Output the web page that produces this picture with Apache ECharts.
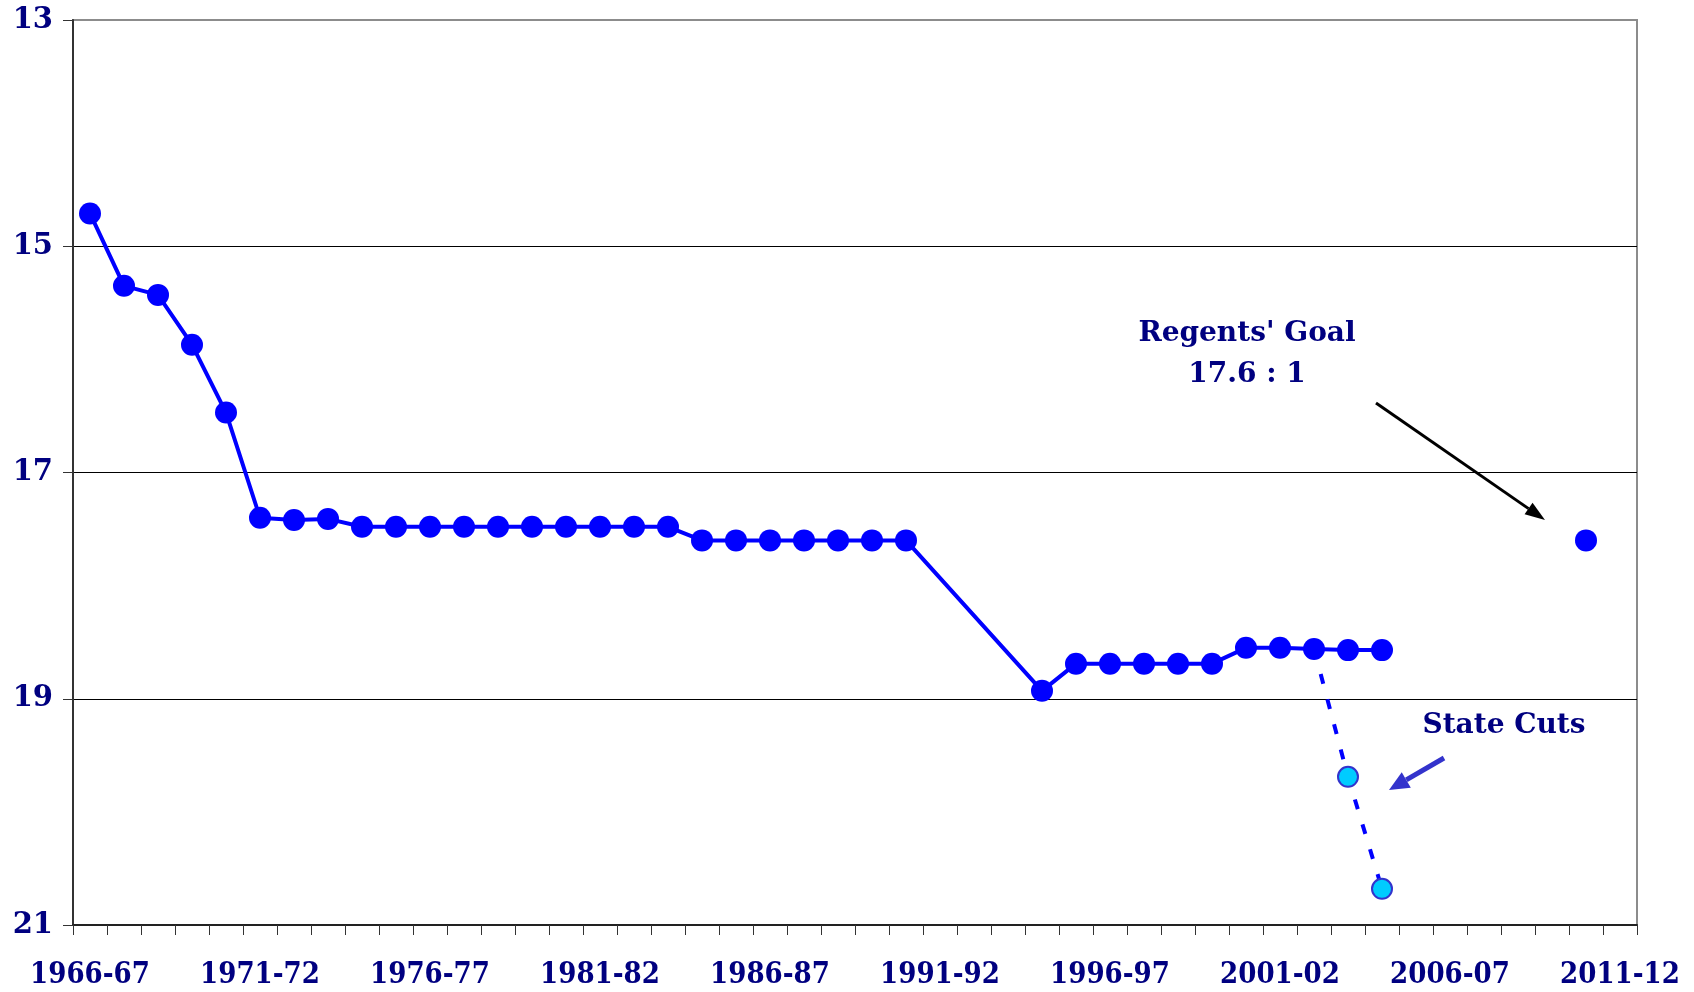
<!DOCTYPE html>
<html>
<head>
<meta charset="utf-8">
<script src="https://cdn.jsdelivr.net/npm/echarts@6/dist/echarts.min.js"></script>
<style>
  html, body { margin: 0; padding: 0; background: #fff; }
  #chart { width: 1694px; height: 992px; }
</style>
</head>
<body>
<div id="chart"></div>
<script>
// school years 1966-67 .. 2011-12
const firstYear = 1966;
const lastYear = 2011;
const years = [];
for (let y = firstYear; y <= lastYear; y++) {
  years.push(y + '-' + String(y + 1).slice(2));
}

// students per teacher (y axis is inverted), null = no value
const ratio = [
  14.71, 15.35, 15.43, 15.87, 16.47, 17.40, 17.42, 17.41, 17.48, 17.48,
  17.48, 17.48, 17.48, 17.48, 17.48, 17.48, 17.48, 17.48, 17.60, 17.60,
  17.60, 17.60, 17.60, 17.60, 17.60, null, null, null, 18.93, 18.69,
  18.69, 18.69, 18.69, 18.69, 18.55, 18.55, 18.56, 18.57, 18.57
];
// projected after state cuts, starting at 2002-03
const cutsStart = 36;
const cuts = [18.56, 19.69, 20.68];
// regents' goal point
const goalYear = '2010-11';
const goalValue = 17.6;

const yTicks = { min: 13, max: 21, step: 2 };

const navy = '#000080';
const blue = '#0000FF';

let cutsData = years.map(() => null);
cuts.forEach((v, i) => {
  cutsData[cutsStart + i] = i == 0 ? { value: v, symbol: 'none' } : v;
});
let goalData = years.map(y => (y == goalYear ? goalValue : null));

// little helper for the annotation arrows
function arrow(x1, y1, x2, y2, color, width, headLen, headW) {
  let ang = Math.atan2(y2 - y1, x2 - x1);
  let bx = x2 - headLen * Math.cos(ang), by = y2 - headLen * Math.sin(ang);
  let nx = -Math.sin(ang) * headW / 2, ny = Math.cos(ang) * headW / 2;
  return [
    { type: 'line', shape: { x1: x1, y1: y1, x2: bx, y2: by },
      style: { stroke: color, lineWidth: width }, z: 100 },
    { type: 'polygon', shape: { points: [[x2, y2], [bx + nx, by + ny], [bx - nx, by - ny]] },
      style: { fill: color }, z: 100 }
  ];
}

let chart = echarts.init(document.getElementById('chart'));
let option = {
  animation: false,
  grid: {
    left: 73, right: 57, top: 20, bottom: 67,
    show: true, borderColor: '#8c8c8c', borderWidth: 2
  },
  xAxis: {
    type: 'category',
    data: years,
    boundaryGap: true,
    axisLine: { onZero: false, lineStyle: { color: '#222', width: 2 } },
    axisTick: { show: true, interval: 0, length: 10, lineStyle: { color: '#333', width: 1 } },
    axisLabel: {
      interval: 4, margin: 36, color: navy,
      fontFamily: '"DejaVu Serif Condensed", "Liberation Serif", serif',
      fontWeight: 'bold', fontSize: 29
    },
    splitLine: { show: false }
  },
  yAxis: {
    type: 'value',
    inverse: true,
    min: yTicks.min, max: yTicks.max, interval: yTicks.step,
    axisLine: { show: true, lineStyle: { color: '#333', width: 2 } },
    axisTick: { show: true, length: 10, lineStyle: { color: '#333', width: 1 } },
    axisLabel: {
      margin: 20, color: navy,
      fontFamily: '"DejaVu Serif", serif', fontWeight: 'bold', fontSize: 29
    },
    splitLine: { show: true, showMinLine: false, showMaxLine: false,
      lineStyle: { color: '#000', width: 1 } }
  },
  series: [
    {
      name: 'State Cuts',
      type: 'line',
      data: cutsData,
      symbol: 'circle', symbolSize: 20,
      lineStyle: { color: blue, width: 4, type: [10, 16] },
      itemStyle: { color: '#00CCFF', borderColor: '#3333CC', borderWidth: 2 },
      z: 2
    },
    {
      name: 'Ratio',
      type: 'line',
      data: ratio,
      connectNulls: true,
      symbol: 'circle', symbolSize: 22,
      lineStyle: { color: blue, width: 4 },
      itemStyle: { color: blue },
      z: 3
    },
    {
      name: "Regents' Goal",
      type: 'line',
      data: goalData,
      symbol: 'circle', symbolSize: 22,
      lineStyle: { width: 0 },
      itemStyle: { color: blue },
      z: 3
    }
  ],
  graphic: [
    {
      type: 'text', x: 1247, y: 313, z: 100,
      style: {
        text: "Regents' Goal\n17.6 : 1", fill: navy, align: 'center', verticalAlign: 'top',
        font: 'bold 28px "DejaVu Serif", serif', lineHeight: 41
      }
    },
    {
      type: 'text', x: 1504, y: 712, z: 100,
      style: {
        text: 'State Cuts', fill: navy, align: 'center', verticalAlign: 'top',
        font: 'bold 28px "DejaVu Serif", serif'
      }
    },
    ...arrow(1376, 403, 1545, 520, '#000', 3, 20, 14),
    ...arrow(1444, 758, 1389, 790, '#3333CC', 5, 20, 18)
  ]
};
chart.setOption(option);
</script>
</body>
</html>
